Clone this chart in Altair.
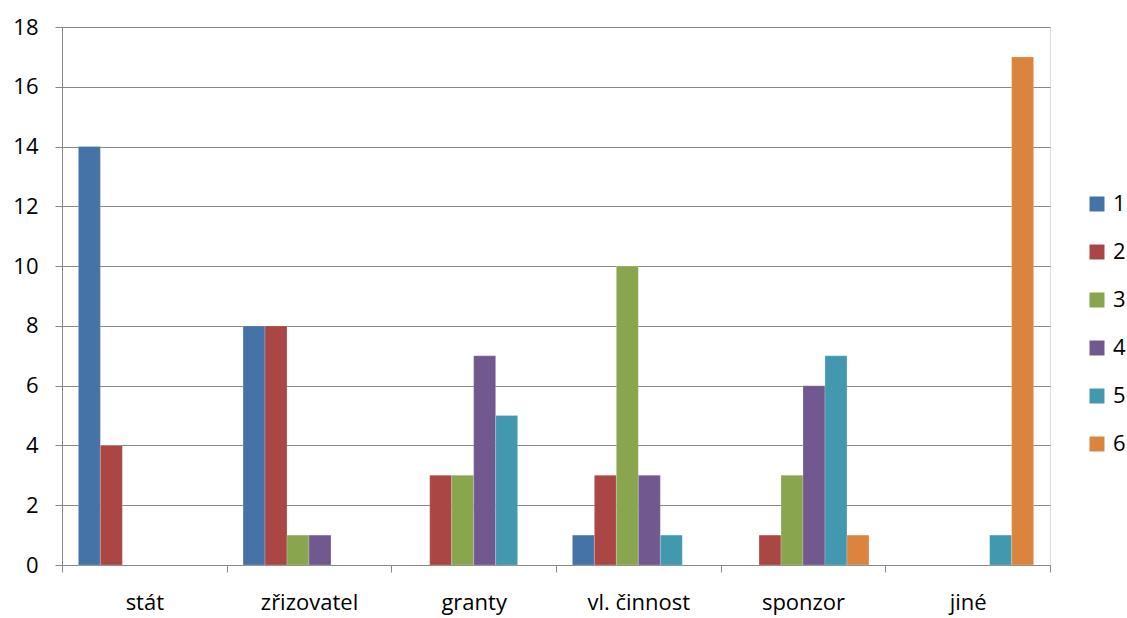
import altair as alt
import pandas as pd

categories = ["stát", "zřizovatel", "granty", "vl. činnost", "sponzor", "jiné"]
series_names = ["1", "2", "3", "4", "5", "6"]
s1 = [14, 8, 0, 1, 0, 0]
s2 = [4, 8, 3, 3, 1, 0]
s3 = [0, 1, 3, 10, 3, 0]
s4 = [0, 1, 7, 3, 6, 0]
s5 = [0, 0, 5, 1, 7, 1]
s6 = [0, 0, 0, 0, 1, 17]
colors = ["#4572A7", "#AA4643", "#89A54E", "#71588F", "#4198AF", "#DB843D"]

rows = []
for name, vals in zip(series_names, [s1, s2, s3, s4, s5, s6]):
    for cat, v in zip(categories, vals):
        if v != 0:
            rows.append({"kategorie": cat, "serie": name, "hodnota": v})
df = pd.DataFrame(rows)

FONT = "Open Sans"
FS = 22
GRID = "#868686"

chart = alt.Chart(df).mark_bar(stroke="white", strokeOpacity=0.35, strokeWidth=0.6).encode(
    x=alt.X("kategorie:N", sort=categories,
            scale=alt.Scale(domain=categories, paddingInner=0, paddingOuter=0),
            axis=alt.Axis(title=None, labelAngle=0, tickBand="extent", tickSize=7,
                          tickColor=GRID, domainColor=GRID, grid=False,
                          labelPadding=20, labelFontSize=FS, labelFont=FONT,
                          labelColor="#000000")),
    xOffset=alt.XOffset("serie:N",
                        scale=alt.Scale(domain=series_names, paddingInner=0, paddingOuter=0.745)),
    y=alt.Y("hodnota:Q",
            scale=alt.Scale(domain=[0, 18], nice=False),
            axis=alt.Axis(title=None, values=list(range(0, 19, 2)), tickSize=7,
                          tickColor=GRID, domainColor=GRID, gridColor=GRID,
                          gridOpacity=1, labelPadding=17, labelFontSize=FS,
                          labelFont=FONT, labelColor="#000000")),
    color=alt.Color("serie:N",
                    scale=alt.Scale(domain=series_names, range=colors),
                    legend=alt.Legend(title=None, orient="none", legendX=1024, legendY=166,
                                      symbolType="square", symbolSize=225,
                                      symbolStrokeWidth=0, labelFontSize=FS,
                                      labelFont=FONT, labelColor="#000000",
                                      rowPadding=26, labelOffset=5)),
).properties(
    width=988, height=538,
    autosize=alt.AutoSizeParams(type="none"),
    padding={"left": 62, "top": 27, "right": 77, "bottom": 53},
).configure_view(stroke=None).configure(background="white")

chart.save("out.html", embed_options={"renderer": "svg", "actions": False})
